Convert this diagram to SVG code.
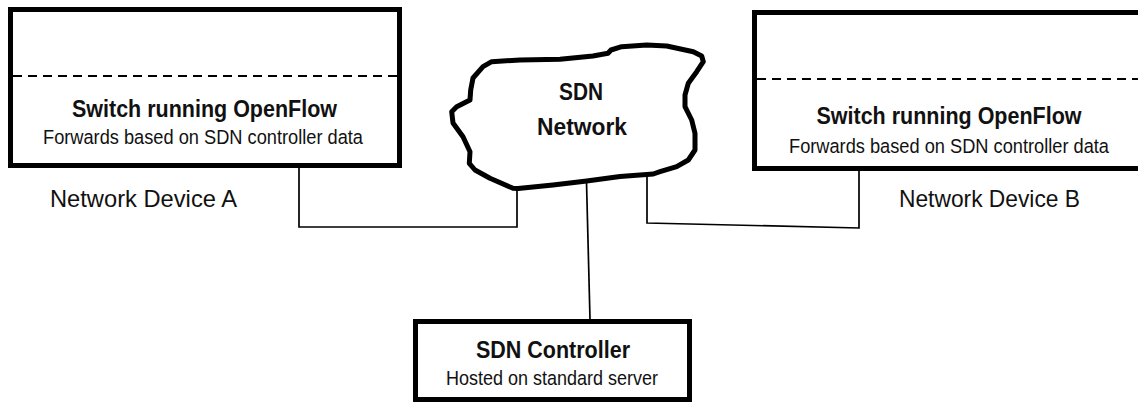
<svg xmlns="http://www.w3.org/2000/svg" width="1138" height="402" viewBox="0 0 1138 402">
  <style>
    .box { fill: #ffffff; stroke: #000000; stroke-width: 5; }
    .dash { stroke: #000000; stroke-width: 2; stroke-dasharray: 9 6; fill: none; }
    .cloud { fill: #ffffff; stroke: #000000; stroke-width: 5; stroke-linejoin: round; }
    .conn { fill: none; stroke: #000000; stroke-width: 1.7; }
    .title { font-family: "Liberation Sans", Arial, sans-serif; font-weight: bold; font-size: 24.5px; fill: #111111; text-anchor: middle; }
    .sub { font-family: "Liberation Sans", Arial, sans-serif; font-size: 20.5px; fill: #111111; text-anchor: middle; }
    .label { font-family: "Liberation Sans", Arial, sans-serif; font-size: 24px; fill: #111111; }
  </style>
  <rect width="1138" height="402" fill="#ffffff"/>

  <g id="connectors">
    <path class="conn" d="M299,168 V227 H517 V189"/>
    <path class="conn" d="M586.5,182 L590,319"/>
    <path class="conn" d="M647,176 V223 L859,228 V171"/>
  </g>

  <g id="deviceA">
    <rect class="box" x="10.5" y="9.5" width="389" height="156"/>
    <line class="dash" x1="13" y1="76" x2="397" y2="76"/>
    <text class="title" x="204.5" y="117" textLength="265" lengthAdjust="spacingAndGlyphs">Switch running OpenFlow</text>
    <text class="sub" x="203" y="143.5" textLength="320" lengthAdjust="spacingAndGlyphs">Forwards based on SDN controller data</text>
  </g>
  <text id="labelA" class="label" x="50" y="207" textLength="187" lengthAdjust="spacingAndGlyphs">Network Device A</text>

  <g id="deviceB">
    <rect class="box" x="754.5" y="12.5" width="392" height="156"/>
    <line class="dash" x1="757" y1="79" x2="1138" y2="79"/>
    <text class="title" x="949" y="124" textLength="265" lengthAdjust="spacingAndGlyphs">Switch running OpenFlow</text>
    <text class="sub" x="949" y="152.5" textLength="320" lengthAdjust="spacingAndGlyphs">Forwards based on SDN controller data</text>
  </g>
  <text id="labelB" class="label" x="899" y="207" textLength="181" lengthAdjust="spacingAndGlyphs">Network Device B</text>

  <g id="network">
    <path class="cloud" d="M491.7,61.7 L520,60 L560,59.3 L593,56 L608,53.3 L611,50 L621.7,46.7 L646.7,45 L666.7,46 L693.3,51.7 L701.7,56 L703.3,61.7 L696.7,71.7 L688.3,83.3 L685,95 L685,106.7 L691.7,120 L695,133.3 L695,150 L688.3,160 L676.7,166.7 L660,171.7 L653.3,174 L620,176.5 L586.7,181 L553,185 L518,188.5 L513,188.3 L490,178.3 L475,170 L469.3,163.3 L470,151.7 L463,136.7 L453,123 L451.7,111.7 L456.7,106.7 L470,100 L470.7,90 L473,78 L483,66.7 Z"/>
    <text class="title" x="581" y="100" textLength="44" lengthAdjust="spacingAndGlyphs">SDN</text>
    <text class="title" x="582" y="135" textLength="90" lengthAdjust="spacingAndGlyphs">Network</text>
  </g>

  <g id="controller">
    <rect class="box" x="415.5" y="321.5" width="274" height="78"/>
    <text class="title" x="553" y="358" textLength="154" lengthAdjust="spacingAndGlyphs">SDN Controller</text>
    <text class="sub" x="552" y="385" textLength="212" lengthAdjust="spacingAndGlyphs">Hosted on standard server</text>
  </g>
</svg>
